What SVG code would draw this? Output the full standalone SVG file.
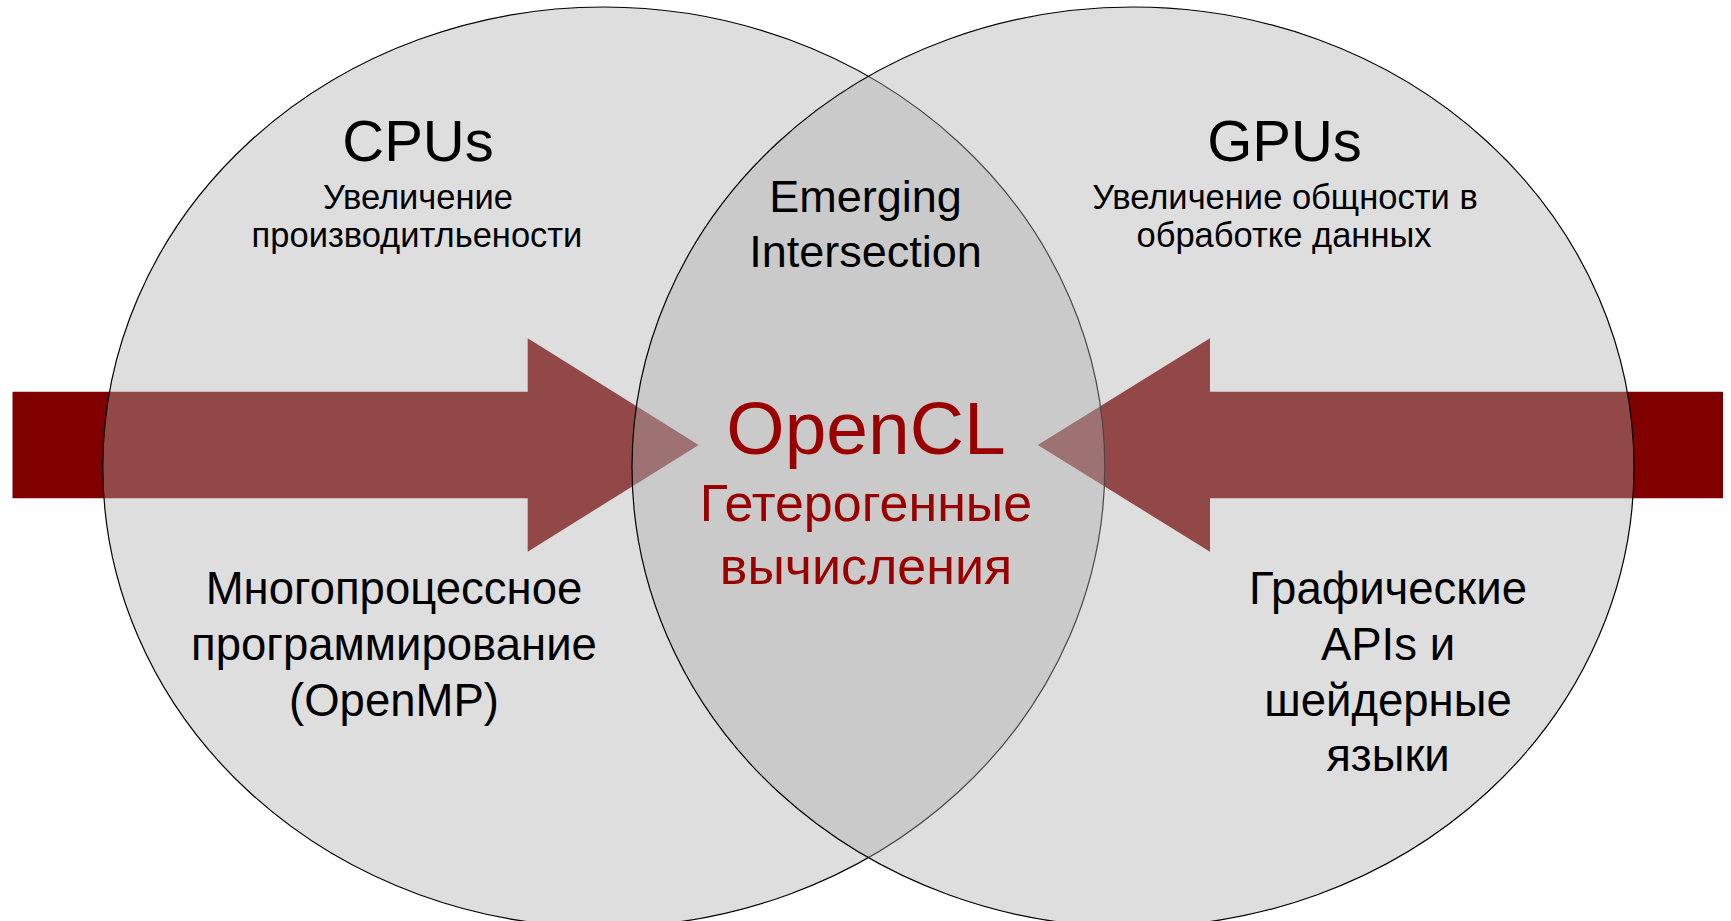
<svg xmlns="http://www.w3.org/2000/svg" width="1731" height="921" viewBox="0 0 1731 921">
  <style>
    .set { fill: #b0b0b0; fill-opacity: 0.41; stroke: #000; stroke-width: 1.2; }
    .arrow { fill: #800000; }
    text { font-family: "Liberation Sans", Arial, sans-serif; text-anchor: middle; fill: #000; }
    .title { font-size: 58px; }
    .sub { font-size: 34.5px; }
    .body { font-size: 45.5px; }
    .mid { font-size: 45px; }
    .hl { fill: #990000; }
    .hl-big { font-size: 75px; }
    .hl-sub { font-size: 52px; }
  </style>

  <!-- converging arrows, drawn beneath the translucent sets -->
  <g id="connectors">
    <polygon id="arrow-cpu" class="arrow" points="12.5,391.7 527.7,391.7 527.7,338.3 698.7,445 527.7,551.7 527.7,498.3 12.5,498.3"/>
    <polygon id="arrow-gpu" class="arrow" points="1723,391.7 1210,391.7 1210,338.3 1037.7,445 1210,551.7 1210,498.3 1723,498.3"/>
  </g>

  <g id="cpus">
    <ellipse class="set" cx="603.8" cy="467" rx="501" ry="460"/>
    <text class="title" x="418" y="161">CPUs</text>
    <text class="sub" x="418" y="208.5">Увеличение</text>
    <text class="sub" x="417" y="247">производитльености</text>
    <text class="body" x="394" y="604">Многопроцессное</text>
    <text class="body" x="394" y="660">программирование</text>
    <text class="body" x="394" y="716">(OpenMP)</text>
  </g>

  <g id="gpus">
    <ellipse class="set" cx="1133" cy="467" rx="501" ry="460"/>
    <text class="title" x="1284.5" y="161">GPUs</text>
    <text class="sub" x="1285" y="208.5">Увеличение общности в</text>
    <text class="sub" x="1284" y="247">обработке данных</text>
    <text class="body" x="1388" y="604">Графические</text>
    <text class="body" x="1388" y="660">APIs и</text>
    <text class="body" x="1388" y="716">шейдерные</text>
    <text class="body" x="1388" y="771">языки</text>
  </g>

  <g id="intersection">
    <text class="mid" x="865.5" y="211.7">Emerging</text>
    <text class="mid" x="865.5" y="266.7">Intersection</text>
    <text class="hl hl-big" x="866" y="454">OpenCL</text>
    <text class="hl hl-sub" x="866" y="521">Гетерогенные</text>
    <text class="hl hl-sub" x="866" y="584">вычисления</text>
  </g>
</svg>
